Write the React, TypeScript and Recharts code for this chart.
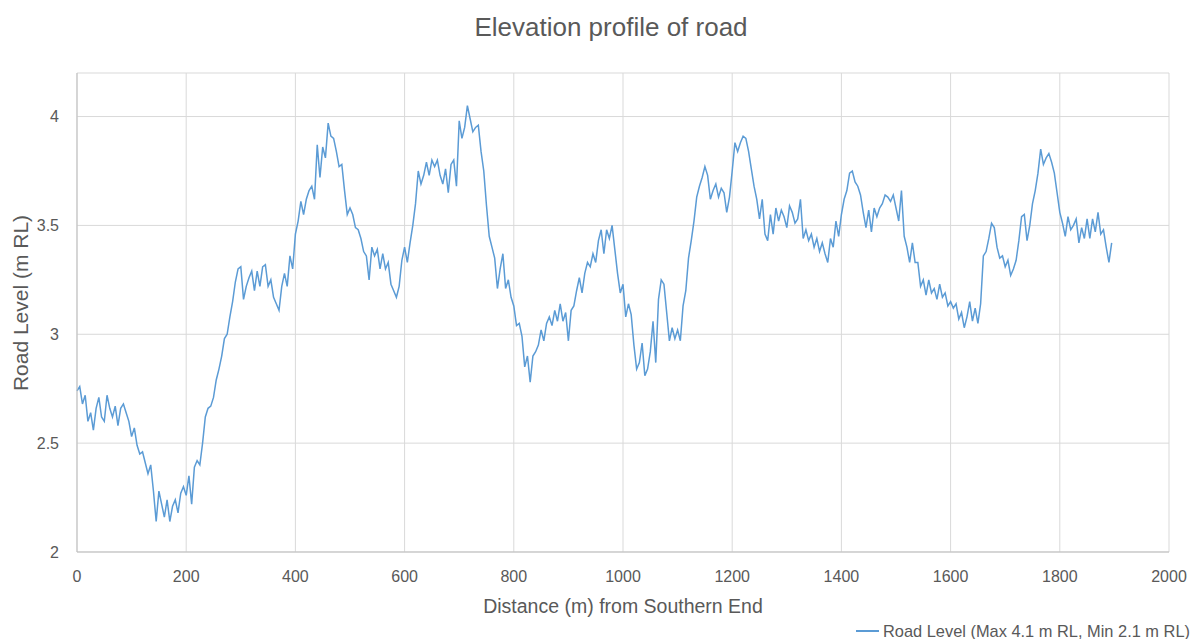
import { LineChart, Line, XAxis, YAxis, CartesianGrid } from "recharts";

// road level (m RL) every 5 m, one array per 200 m stretch
const levels0 = [
  2.74, 2.76, 2.68, 2.72, 2.6, 2.64, 2.56, 2.66, 2.71, 2.62,
  2.6, 2.72, 2.66, 2.62, 2.67, 2.58, 2.66, 2.68, 2.64, 2.6,
  2.53, 2.57, 2.49, 2.45, 2.46, 2.41, 2.36, 2.4, 2.28, 2.14,
  2.28, 2.22, 2.16, 2.24, 2.14, 2.21, 2.24, 2.18, 2.27, 2.3,
];
const levels200 = [
  2.26, 2.35, 2.22, 2.39, 2.42, 2.4, 2.5, 2.62, 2.66, 2.67,
  2.71, 2.79, 2.84, 2.9, 2.98, 3.0, 3.08, 3.15, 3.24, 3.3,
  3.31, 3.16, 3.22, 3.26, 3.29, 3.2, 3.29, 3.22, 3.31, 3.32,
  3.22, 3.25, 3.17, 3.14, 3.11, 3.22, 3.28, 3.22, 3.36, 3.3,
];
const levels400 = [
  3.46, 3.52, 3.61, 3.55, 3.62, 3.66, 3.68, 3.62, 3.87, 3.72,
  3.86, 3.81, 3.97, 3.91, 3.9, 3.84, 3.77, 3.78, 3.66, 3.55,
  3.58, 3.55, 3.49, 3.48, 3.44, 3.38, 3.36, 3.25, 3.4, 3.36,
  3.39, 3.3, 3.37, 3.3, 3.33, 3.23, 3.2, 3.17, 3.22, 3.34,
];
const levels600 = [
  3.4, 3.33, 3.42, 3.5, 3.6, 3.75, 3.69, 3.73, 3.79, 3.73,
  3.8, 3.77, 3.8, 3.73, 3.69, 3.76, 3.65, 3.78, 3.8, 3.68,
  3.98, 3.9, 3.95, 4.05, 3.99, 3.93, 3.95, 3.96, 3.84, 3.75,
  3.59, 3.45, 3.4, 3.35, 3.21, 3.3, 3.37, 3.21, 3.25, 3.17,
];
const levels800 = [
  3.13, 3.04, 3.05, 2.99, 2.85, 2.9, 2.78, 2.9, 2.92, 2.95,
  3.02, 2.97, 3.05, 3.08, 3.04, 3.11, 3.06, 3.14, 3.06, 3.1,
  2.97, 3.11, 3.13, 3.2, 3.26, 3.19, 3.28, 3.33, 3.31, 3.37,
  3.33, 3.43, 3.48, 3.37, 3.48, 3.44, 3.5, 3.39, 3.28, 3.19,
];
const levels1000 = [
  3.23, 3.08, 3.14, 3.09, 2.95, 2.84, 2.87, 2.96, 2.81, 2.84,
  2.92, 3.06, 2.87, 3.16, 3.25, 3.23, 3.1, 2.97, 3.03, 2.98,
  3.02, 2.97, 3.13, 3.2, 3.35, 3.43, 3.52, 3.63, 3.68, 3.72,
  3.77, 3.73, 3.62, 3.66, 3.69, 3.63, 3.67, 3.65, 3.56, 3.63,
];
const levels1200 = [
  3.75, 3.88, 3.84, 3.88, 3.91, 3.9, 3.84, 3.76, 3.68, 3.62,
  3.53, 3.62, 3.46, 3.43, 3.55, 3.46, 3.58, 3.52, 3.57, 3.54,
  3.49, 3.59, 3.56, 3.51, 3.53, 3.62, 3.44, 3.48, 3.43, 3.46,
  3.4, 3.44, 3.38, 3.42, 3.37, 3.33, 3.44, 3.4, 3.52, 3.45,
];
const levels1400 = [
  3.55, 3.62, 3.66, 3.74, 3.75, 3.7, 3.68, 3.64, 3.56, 3.49,
  3.57, 3.47, 3.58, 3.54, 3.58, 3.6, 3.64, 3.63, 3.61, 3.64,
  3.58, 3.52, 3.66, 3.45, 3.4, 3.33, 3.42, 3.33, 3.33, 3.22,
  3.25, 3.18, 3.25, 3.19, 3.21, 3.16, 3.23, 3.17, 3.19, 3.13,
];
const levels1600 = [
  3.15, 3.12, 3.14, 3.07, 3.1, 3.03, 3.08, 3.15, 3.06, 3.12,
  3.05, 3.14, 3.36, 3.38, 3.44, 3.51, 3.49, 3.4, 3.35, 3.36,
  3.31, 3.34, 3.27, 3.3, 3.34, 3.43, 3.54, 3.55, 3.43, 3.5,
  3.6, 3.66, 3.74, 3.85, 3.78, 3.81, 3.83, 3.79, 3.74, 3.65,
];
const levels1800 = [
  3.56, 3.51, 3.45, 3.54, 3.48, 3.5, 3.53, 3.42, 3.49, 3.44,
  3.53, 3.44, 3.53, 3.47, 3.56, 3.46, 3.48, 3.4, 3.33, 3.42,
];

const sections = [
  levels0, levels200, levels400, levels600, levels800,
  levels1000, levels1200, levels1400, levels1600, levels1800,
];

const xTicks = [0, 200, 400, 600, 800, 1000, 1200, 1400, 1600, 1800, 2000];
const yTicks = [2, 2.5, 3, 3.5, 4];

const data = sections.flatMap((arr, s) =>
  arr.map((v, i) => ({ dist: s * 200 + i * 5, level: v }))
);

const FONT = "'Liberation Sans', Arial, sans-serif";
const TEXT = "#595959";

export default function App() {
  return (
    <div
      style={{
        position: "absolute",
        left: 0,
        top: 0,
        width: 1198,
        height: 639,
        overflow: "hidden",
        background: "#fff",
        fontFamily: FONT,
        color: TEXT,
      }}
    >
      <div
        style={{
          position: "absolute",
          left: 0,
          width: 1222,
          top: 10,
          textAlign: "center",
          fontSize: 26,
          lineHeight: "34px",
        }}
      >
        Elevation profile of road
      </div>

      <LineChart
        width={1198}
        height={639}
        data={data}
        margin={{ top: 73, right: 29, bottom: 0, left: 0 }}
      >
        <CartesianGrid stroke="#d9d9d9" />
        <XAxis
          dataKey="dist"
          type="number"
          domain={[0, 2000]}
          ticks={xTicks}
          height={87}
          tickLine={false}
          tickMargin={13}
          axisLine={{ stroke: "#bfbfbf" }}
          tick={{ fill: TEXT, fontSize: 16, fontFamily: FONT }}
        />
        <YAxis
          type="number"
          domain={[2, 4.2]}
          ticks={yTicks}
          width={77}
          tickLine={false}
          tickMargin={12}
          axisLine={{ stroke: "#bfbfbf" }}
          tick={{ fill: TEXT, fontSize: 16, fontFamily: FONT }}
        />
        <Line
          type="linear"
          dataKey="level"
          stroke="#5b9bd5"
          strokeWidth={1.5}
          dot={false}
          isAnimationActive={false}
        />
      </LineChart>

      <div
        style={{
          position: "absolute",
          left: 21,
          top: 303,
          transform: "translate(-50%, -50%) rotate(-90deg)",
          whiteSpace: "nowrap",
          fontSize: 21,
        }}
      >
        Road Level (m RL)
      </div>

      <div
        style={{
          position: "absolute",
          left: 623,
          top: 606,
          transform: "translate(-50%, -50%)",
          whiteSpace: "nowrap",
          fontSize: 19.5,
        }}
      >
        Distance (m) from Southern End
      </div>

      <div
        style={{
          position: "absolute",
          left: 856,
          top: 621,
          whiteSpace: "nowrap",
          fontSize: 16.4,
          lineHeight: "20px",
          display: "flex",
          alignItems: "center",
        }}
      >
        <span
          style={{
            display: "inline-block",
            width: 23,
            height: 2,
            background: "#5b9bd5",
            marginRight: 4,
          }}
        />
        Road Level (Max 4.1 m RL, Min 2.1 m RL)
      </div>
    </div>
  );
}
